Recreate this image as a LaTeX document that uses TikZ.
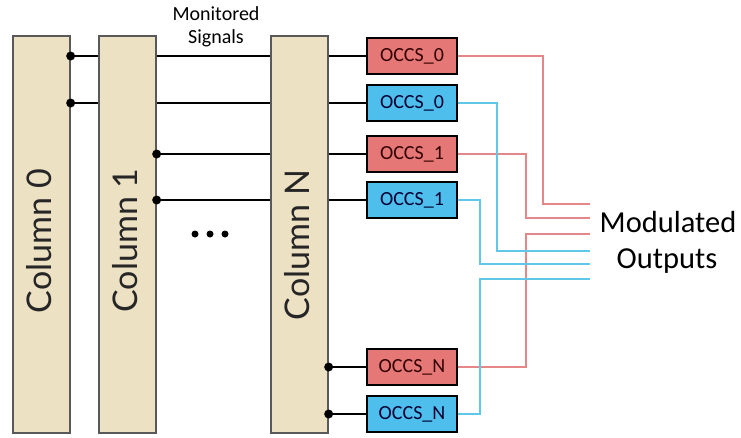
\documentclass[tikz,border=0pt]{standalone}
\usepackage{fontspec}
\setmainfont{Carlito}
\newfontfamily\colfont{Lato}
\begin{document}
\begin{tikzpicture}[x=1pt,y=-1pt,
  colbox/.style={draw=black!65,line width=1.3pt,fill=beige,minimum width=57pt,minimum height=397pt,inner sep=0pt},
  collabel/.style={rotate=90,font=\colfont\fontsize{34}{34}\selectfont,text=black!85,inner sep=0pt},
  occs/.style={draw=black,line width=2.6pt,minimum width=90pt,minimum height=36pt,inner sep=0pt,font=\fontsize{20}{20}\selectfont},
  redocc/.style={occs,fill=occred,text=black!80!red},
  blueocc/.style={occs,fill=occblue,text=black!80!blue},
  sig/.style={line width=2.8pt,black},
  jdot/.style={circle,fill=black,inner sep=0pt,minimum size=9pt},
  redline/.style={line width=1.8pt,linered},
  blueline/.style={line width=1.8pt,lineblue},
  bigtext/.style={font=\fontsize{30.5}{30.5}\selectfont,inner sep=0pt},
  smalltext/.style={font=\fontsize{20}{20}\selectfont,inner sep=0pt}
]
\definecolor{beige}{RGB}{237,225,196}
\definecolor{occred}{RGB}{229,120,118}
\definecolor{occblue}{RGB}{78,190,236}
\definecolor{linered}{RGB}{230,135,135}
\definecolor{lineblue}{RGB}{95,200,232}
\useasboundingbox[fill=white] (0,0) rectangle (741,437);

% OCCS boxes
\node[redocc]  (r0) at (412,56)  {OCCS\_0};
\node[blueocc] (b0) at (412,103) {OCCS\_0};
\node[redocc]  (r1) at (412,154) {OCCS\_1};
\node[blueocc] (b1) at (412,200) {OCCS\_1};
\node[redocc]  (rN) at (412,367) {OCCS\_N};
\node[blueocc] (bN) at (412,414) {OCCS\_N};

% columns
\node[colbox] (c0) at (41.5,234.5) {};
\node[colbox] (c1) at (127.5,234.5) {};
\node[colbox] (cN) at (299.5,234.5) {};
\node[collabel] (l0) at (39,241) {Column 0};
\node[collabel] (l1) at (125,240.5) {Column 1};
\node[collabel] (lN) at (297,245) {Column N};

% monitored signal segments between columns
\draw[sig] (c0.east |- r0.west) -- (c1.west |- r0.west);
\draw[sig] (c0.east |- b0.west) -- (c1.west |- b0.west);
\draw[sig] (c1.east |- r0.west) -- (cN.west |- r0.west);
\draw[sig] (c1.east |- b0.west) -- (cN.west |- b0.west);
\draw[sig] (c1.east |- r1.west) -- (cN.west |- r1.west);
\draw[sig] (c1.east |- b1.west) -- (cN.west |- b1.west);
\draw[sig] (cN.east |- r0.west) -- (r0.west);
\draw[sig] (cN.east |- b0.west) -- (b0.west);
\draw[sig] (cN.east |- r1.west) -- (r1.west);
\draw[sig] (cN.east |- b1.west) -- (b1.west);
\draw[sig] (cN.east |- rN.west) -- (rN.west);
\draw[sig] (cN.east |- bN.west) -- (bN.west);

% junction dots
\node[jdot] (d1) at (c0.east |- r0.west) {};
\node[jdot] (d2) at (c0.east |- b0.west) {};
\node[jdot] (d3) at (c1.east |- r1.west) {};
\node[jdot] (d4) at (c1.east |- b1.west) {};
\node[jdot] (d5) at (cN.east |- rN.west) {};
\node[jdot] (d6) at (cN.east |- bN.west) {};

% ellipsis dots
\node[jdot,minimum size=7pt] (e1) at (195,234) {};
\node[jdot,minimum size=7pt] (e2) at (210,234) {};
\node[jdot,minimum size=7pt] (e3) at (225,234) {};

% outputs
\coordinate (o1) at (590,204);
\coordinate (o2) at (590,218);
\coordinate (o3) at (590,234);
\coordinate (o4) at (590,251);
\coordinate (o5) at (590,264);
\coordinate (o6) at (590,279);

\draw[redline]  (r0.east) -- ++(85,0) |- (o1);
\draw[redline]  (r1.east) -- ++(68,0) |- (o2);
\draw[redline]  (rN.east) -- ++(68,0) |- (o3);
\draw[blueline] (b0.east) -- ++(39,0) |- (o4);
\draw[blueline] (b1.east) -- ++(22,0) |- (o5);
\draw[blueline] (bN.east) -- ++(22,0) |- (o6);

% texts
\node[bigtext] (t1) at (668,222) {Modulated};
\node[bigtext] (t2) at (667,261) {Outputs};
\node[smalltext] (t3) at (216,14) {Monitored};
\node[smalltext] (t4) at (216,38) {Signals};
\end{tikzpicture}
\end{document}
